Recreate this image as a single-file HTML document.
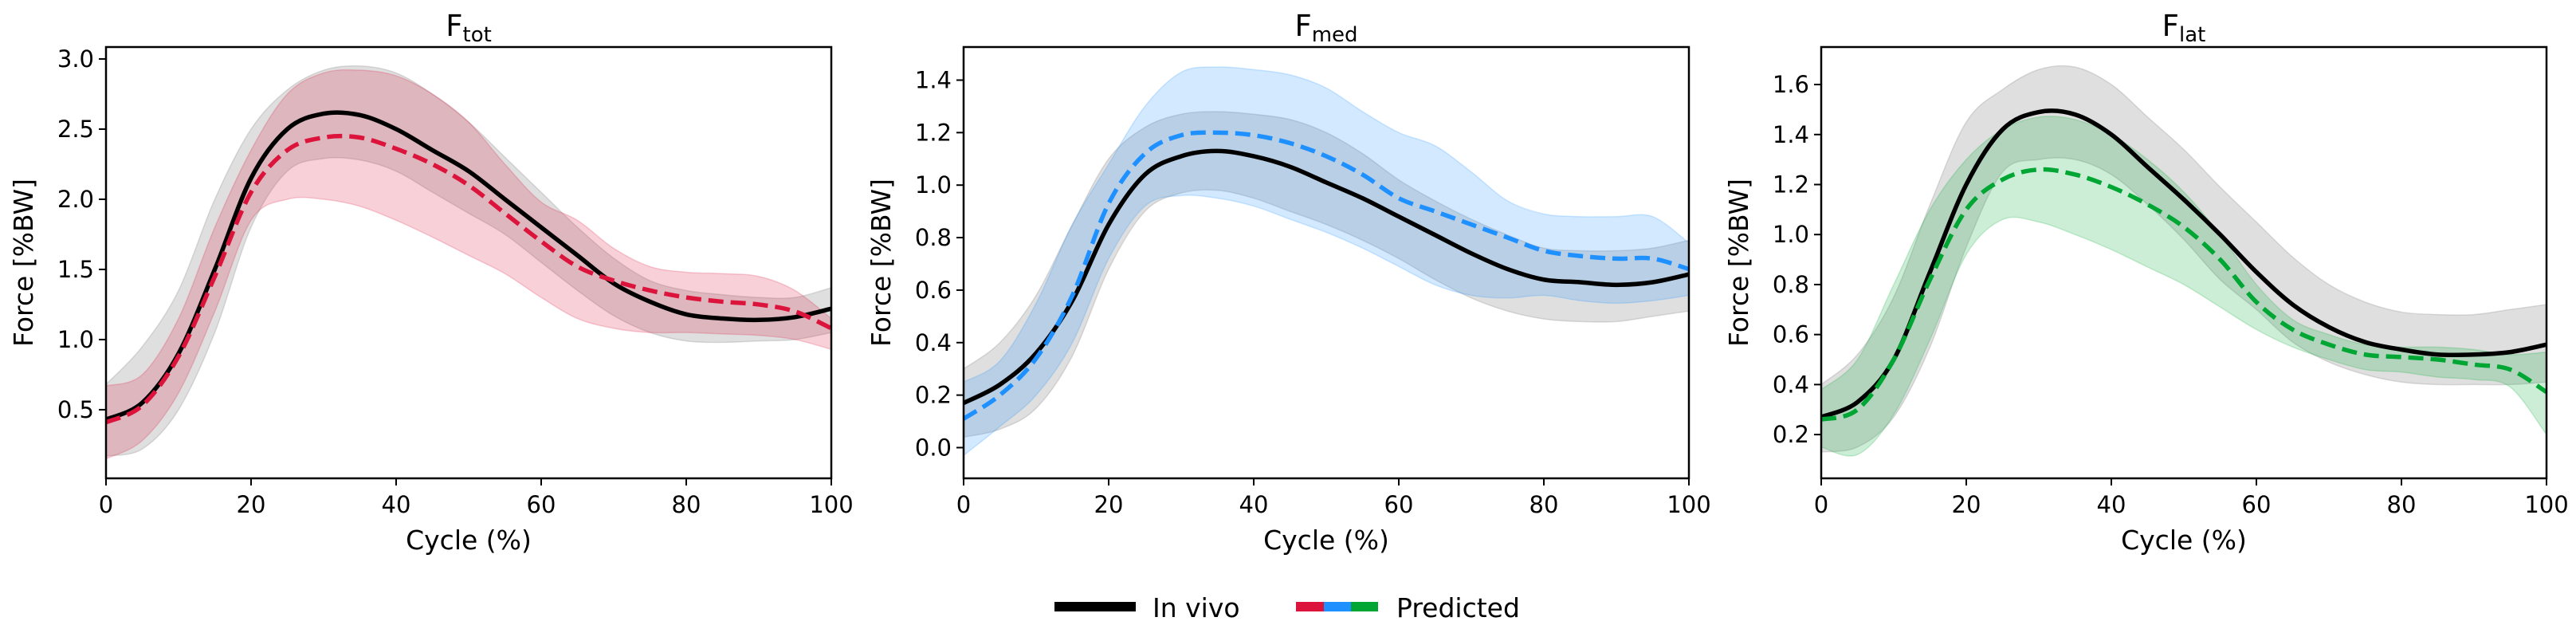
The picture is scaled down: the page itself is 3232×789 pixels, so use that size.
<!DOCTYPE html>
<html><head><meta charset="utf-8">
<style>
html,body{margin:0;padding:0;background:#fff;}
svg{display:block;font-family:"DejaVu Sans","Liberation Sans",sans-serif;}
</style></head>
<body>
<svg id="fig" width="3232" height="789" viewBox="0 0 3232 789" xmlns="http://www.w3.org/2000/svg"></svg>
<script>
const cycle = [0,5,10,15,20,25,30,35,40,45,50,55,60,65,70,75,80,85,90,95,100];
const xTicks = [0,20,40,60,80,100];

const totVivoMean = [0.43,0.55,0.9,1.5,2.15,2.5,2.61,2.6,2.5,2.35,2.2,2.0,1.8,1.6,1.4,1.27,1.18,1.15,1.14,1.16,1.22];
const totVivoHi   = [0.68,0.95,1.35,2.0,2.5,2.78,2.92,2.95,2.9,2.75,2.55,2.3,2.05,1.8,1.58,1.42,1.35,1.32,1.3,1.3,1.37];
const totVivoLo   = [0.17,0.22,0.5,1.05,1.8,2.2,2.29,2.28,2.2,2.05,1.9,1.75,1.55,1.35,1.17,1.05,0.99,0.98,0.99,1.0,1.05];
const totPredMean = [0.41,0.53,0.88,1.45,2.05,2.35,2.44,2.44,2.36,2.25,2.1,1.9,1.7,1.52,1.42,1.35,1.3,1.27,1.25,1.2,1.08];
const totPredHi   = [0.67,0.75,1.15,1.8,2.35,2.75,2.9,2.92,2.88,2.75,2.55,2.25,1.98,1.85,1.65,1.52,1.48,1.47,1.45,1.35,1.15];
const totPredLo   = [0.15,0.28,0.62,1.2,1.85,2.0,2.0,1.95,1.85,1.73,1.6,1.47,1.3,1.15,1.08,1.05,1.05,1.04,1.03,1.0,0.93];
const totTicks = [0.5,1.0,1.5,2.0,2.5,3.0];

const medVivoMean = [0.17,0.24,0.36,0.56,0.85,1.04,1.11,1.13,1.11,1.07,1.01,0.95,0.88,0.81,0.74,0.68,0.64,0.63,0.62,0.63,0.66];
const medVivoHi   = [0.3,0.4,0.58,0.85,1.1,1.22,1.27,1.28,1.27,1.25,1.2,1.12,1.02,0.94,0.87,0.81,0.76,0.75,0.75,0.76,0.79];
const medVivoLo   = [0.04,0.07,0.15,0.35,0.68,0.9,0.97,0.98,0.95,0.9,0.85,0.79,0.72,0.64,0.57,0.52,0.49,0.48,0.48,0.5,0.52];
const medPredMean = [0.11,0.2,0.34,0.58,0.93,1.12,1.19,1.2,1.19,1.16,1.11,1.04,0.95,0.9,0.85,0.8,0.75,0.73,0.72,0.72,0.68];
const medPredHi   = [0.25,0.33,0.55,0.85,1.08,1.3,1.43,1.45,1.44,1.42,1.37,1.28,1.2,1.15,1.05,0.94,0.89,0.88,0.88,0.88,0.78];
const medPredLo   = [-0.03,0.08,0.2,0.4,0.72,0.92,0.96,0.95,0.92,0.87,0.82,0.76,0.69,0.62,0.58,0.57,0.58,0.56,0.55,0.56,0.58];
const medTicks = [0.0,0.2,0.4,0.6,0.8,1.0,1.2,1.4];

const latVivoMean = [0.27,0.33,0.5,0.85,1.2,1.42,1.49,1.48,1.4,1.27,1.14,1.0,0.85,0.72,0.63,0.57,0.54,0.52,0.52,0.53,0.56];
const latVivoHi   = [0.4,0.52,0.75,1.12,1.45,1.58,1.66,1.67,1.6,1.47,1.34,1.19,1.05,0.91,0.8,0.73,0.69,0.68,0.68,0.7,0.72];
const latVivoLo   = [0.13,0.15,0.27,0.55,0.95,1.25,1.3,1.3,1.24,1.12,0.98,0.82,0.7,0.57,0.49,0.44,0.41,0.4,0.4,0.4,0.41];
const latPredMean = [0.26,0.3,0.5,0.82,1.1,1.22,1.26,1.24,1.19,1.12,1.03,0.9,0.73,0.62,0.56,0.52,0.51,0.5,0.48,0.46,0.37];
const latPredHi   = [0.38,0.5,0.8,1.1,1.3,1.42,1.47,1.46,1.4,1.3,1.17,1.0,0.8,0.66,0.6,0.56,0.55,0.55,0.54,0.52,0.53];
const latPredLo   = [0.15,0.12,0.28,0.58,0.92,1.06,1.05,1.0,0.94,0.87,0.8,0.71,0.62,0.55,0.5,0.46,0.45,0.43,0.42,0.39,0.2];
const latTicks = [0.2,0.4,0.6,0.8,1.0,1.2,1.4,1.6];

const NS = "http://www.w3.org/2000/svg";
const svg = document.getElementById('fig');
function mk(tag, attrs, parent){
  const e = document.createElementNS(NS, tag);
  for (const k in attrs) e.setAttribute(k, attrs[k]);
  (parent||svg).appendChild(e);
  return e;
}
function smooth(pts){
  let d = "M"+pts[0][0]+","+pts[0][1];
  for (let i=0;i<pts.length-1;i++){
    const p0=pts[Math.max(0,i-1)], p1=pts[i], p2=pts[i+1], p3=pts[Math.min(pts.length-1,i+2)];
    const c1x=p1[0]+(p2[0]-p0[0])/6, c1y=p1[1]+(p2[1]-p0[1])/6;
    const c2x=p2[0]-(p3[0]-p1[0])/6, c2y=p2[1]-(p3[1]-p1[1])/6;
    d += " C"+c1x+","+c1y+" "+c2x+","+c2y+" "+p2[0]+","+p2[1];
  }
  return d;
}
function smoothRev(pts){ return smooth(pts.slice().reverse()).replace(/^M/," L"); }

function panel(cfg){
  const L=cfg.left, R=cfg.right, T=59, B=600;
  const xs = v => L + (v-0)/(100-0)*(R-L);
  const ys = v => B - (v-cfg.ymin)/(cfg.ymax-cfg.ymin)*(B-T);
  const g = mk('g',{});
  
  
  const clipId = 'clip-'+cfg.name;
  const cp = mk('clipPath',{id:clipId},g); mk('rect',{x:L,y:T,width:R-L,height:B-T},cp);
  const plot = mk('g',{'clip-path':'url(#'+clipId+')'},g);
  function band(hi, lo, fill, nm){
    const ph = cycle.map((c,i)=>[xs(c),ys(hi[i])]);
    const pl = cycle.map((c,i)=>[xs(c),ys(lo[i])]);
    const p = mk('path',{d:smooth(ph)+smoothRev(pl)+" Z",fill:fill,stroke:fill,'stroke-width':1.5},plot);
    
    
  }
  function line(m, color, dash, nm){
    const pts = cycle.map((c,i)=>[xs(c),ys(m[i])]);
    const a = {d:smooth(pts),fill:'none',stroke:color,'stroke-width':5.5};
    if (dash) a['stroke-dasharray']='19,9';
    const p = mk('path',a,plot);
    
    
  }
  band(cfg.vhi, cfg.vlo, 'rgba(128,128,128,0.25)', cfg.name+'-in-vivo-band');
  band(cfg.phi, cfg.plo, cfg.fill, cfg.name+'-predicted-band');
  line(cfg.vm, '#000', false, cfg.name+'-in-vivo-line');
  line(cfg.pm, cfg.color, true, cfg.name+'-predicted-line');
  const fr = mk('rect',{x:L,y:T,width:R-L,height:B-T,fill:'none',stroke:'#000','stroke-width':2.5},g);
  
  
  xTicks.forEach(t=>{
    const x=xs(t);
    mk('line',{x1:x,x2:x,y1:B,y2:B+9,stroke:'#000','stroke-width':2},g);
    const tx = mk('text',{x:x,y:B+43,'font-size':29,'text-anchor':'middle',fill:'#000'},g);
    tx.textContent = t;
    
    
  });
  cfg.ticks.forEach(t=>{
    const y=ys(t);
    mk('line',{x1:L-9,x2:L,y1:y,y2:y,stroke:'#000','stroke-width':2},g);
    const tx = mk('text',{x:L-15,y:y+10,'font-size':29,'text-anchor':'end',fill:'#000'},g);
    tx.textContent = t.toFixed(1);
    
    
  });
  const xl = mk('text',{x:(L+R)/2,y:689,'font-size':33,'text-anchor':'middle',fill:'#000'},g);
  xl.textContent = 'Cycle (%)';
  
  
  const yx = L-92, yy=(T+B)/2;
  const yl = mk('text',{x:yx,y:yy,'font-size':33,'text-anchor':'middle',fill:'#000',transform:'rotate(-90 '+yx+' '+yy+')'},g);
  yl.textContent = 'Force [%BW]';
  
  
  const tt = mk('text',{x:(L+R)/2,y:45,'font-size':37,'text-anchor':'middle',fill:'#000'},g);
  
  
  tt.appendChild(document.createTextNode('F'));
  const sub = mk('tspan',{'font-size':26,dy:7},tt); sub.textContent = cfg.sub;
}

panel({name:'f-tot',sub:'tot',left:133,right:1043,ymin:0.011,ymax:3.085,ticks:totTicks,
  vm:totVivoMean,vhi:totVivoHi,vlo:totVivoLo,pm:totPredMean,phi:totPredHi,plo:totPredLo,
  color:'#DC143C',fill:'rgba(220,20,60,0.2)'});
panel({name:'f-med',sub:'med',left:1209,right:2119,ymin:-0.117,ymax:1.526,ticks:medTicks,
  vm:medVivoMean,vhi:medVivoHi,vlo:medVivoLo,pm:medPredMean,phi:medPredHi,plo:medPredLo,
  color:'#1E90FF',fill:'rgba(30,144,255,0.2)'});
panel({name:'f-lat',sub:'lat',left:2285,right:3195,ymin:0.025,ymax:1.75,ticks:latTicks,
  vm:latVivoMean,vhi:latVivoHi,vlo:latVivoLo,pm:latPredMean,phi:latPredHi,plo:latPredLo,
  color:'#00A633',fill:'rgba(0,170,51,0.2)'});

// legend
const lg = mk('g',{});


mk('rect',{x:1323,y:755,width:102,height:12,fill:'#000'},lg);
const t1 = mk('text',{x:1446,y:774,'font-size':33,fill:'#000'},lg); t1.textContent='In vivo';


mk('rect',{x:1626,y:755,width:35,height:12,fill:'#DC143C'},lg);
mk('rect',{x:1661,y:755,width:34,height:12,fill:'#1E90FF'},lg);
mk('rect',{x:1695,y:755,width:34,height:12,fill:'#00A633'},lg);
const t2 = mk('text',{x:1752,y:774,'font-size':33,fill:'#000'},lg); t2.textContent='Predicted';


</script>
</body></html>
